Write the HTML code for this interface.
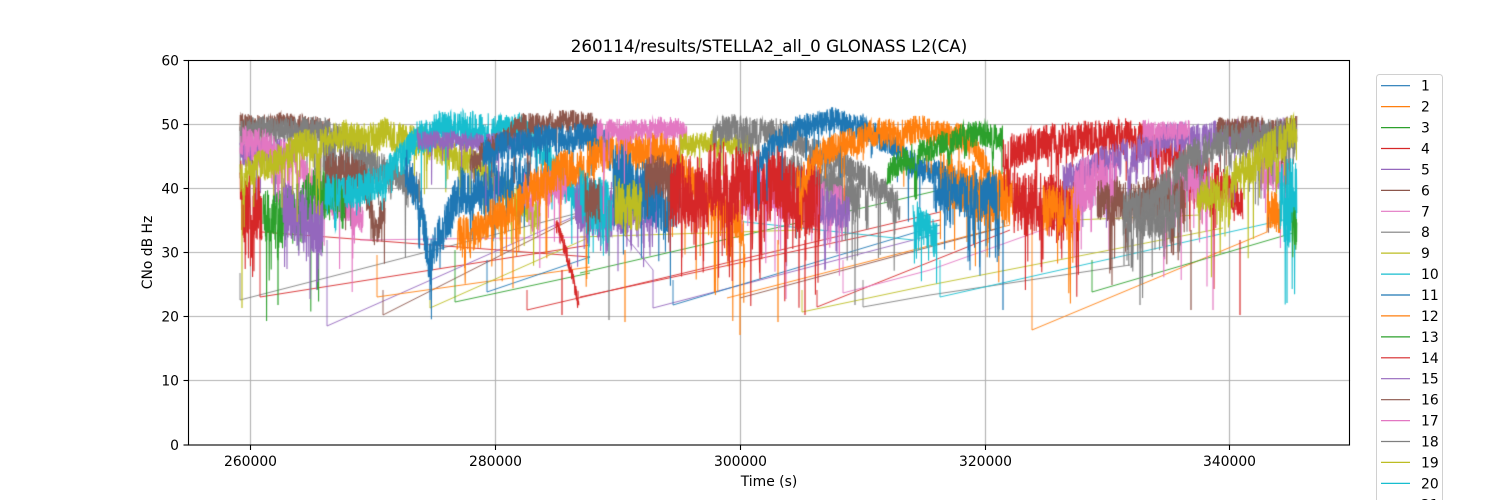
<!DOCTYPE html>
<html><head><meta charset="utf-8"><style>
html,body{margin:0;padding:0;background:#fff;}
#wrap{position:relative;width:1500px;height:500px;overflow:hidden;background:#fff;}
canvas,svg{position:absolute;left:0;top:0;}
text{font-family:"DejaVu Sans","Liberation Sans",sans-serif;fill:#000;}
</style></head><body><div id="wrap">
<canvas id="c" width="1500" height="500"></canvas>
<svg width="1500" height="500" viewBox="0 0 1500 500" xmlns="http://www.w3.org/2000/svg">
<rect x="188.5" y="60.5" width="1161" height="384.5" fill="none" stroke="#000" stroke-width="1.1"/>
<g stroke="#000" stroke-width="1.1">
<line x1="183.5" y1="60.5" x2="188.5" y2="60.5"/><line x1="183.5" y1="124.5" x2="188.5" y2="124.5"/>
<line x1="183.5" y1="188.5" x2="188.5" y2="188.5"/><line x1="183.5" y1="252.5" x2="188.5" y2="252.5"/>
<line x1="183.5" y1="316.5" x2="188.5" y2="316.5"/><line x1="183.5" y1="380.5" x2="188.5" y2="380.5"/>
<line x1="183.5" y1="445" x2="188.5" y2="445"/>
<line x1="250.5" y1="445" x2="250.5" y2="450"/><line x1="495.5" y1="445" x2="495.5" y2="450"/>
<line x1="740.5" y1="445" x2="740.5" y2="450"/><line x1="985.5" y1="445" x2="985.5" y2="450"/>
<line x1="1229.5" y1="445" x2="1229.5" y2="450"/>
</g>
<g font-size="13.9" text-anchor="end">
<text x="179" y="65.5">60</text><text x="179" y="129.5">50</text><text x="179" y="193.5">40</text>
<text x="179" y="257.5">30</text><text x="179" y="321.5">20</text><text x="179" y="385.5">10</text>
<text x="179" y="450">0</text>
</g>
<g font-size="13.9" text-anchor="middle">
<text x="250.5" y="466">260000</text><text x="495.5" y="466">280000</text><text x="740.5" y="466">300000</text>
<text x="985.5" y="466">320000</text><text x="1229.5" y="466">340000</text>
<text x="769" y="486">Time (s)</text>
<text x="0" y="0" transform="translate(152,252.5) rotate(-90)">CNo dB Hz</text>
</g>
<text x="769" y="52" font-size="16.7" text-anchor="middle">260114/results/STELLA2_all_0 GLONASS L2(CA)</text>
<rect x="1376.5" y="74.5" width="66" height="460" rx="3" fill="#fff" fill-opacity="0.8" stroke="#d0d0d0" stroke-width="1"/>
<g stroke-width="1.2">
<line x1="1381" x2="1410" y1="85.7" y2="85.7" stroke="#1f77b4"/>
<line x1="1381" x2="1410" y1="106.6" y2="106.6" stroke="#ff7f0e"/>
<line x1="1381" x2="1410" y1="127.6" y2="127.6" stroke="#2ca02c"/>
<line x1="1381" x2="1410" y1="148.5" y2="148.5" stroke="#d62728"/>
<line x1="1381" x2="1410" y1="169.4" y2="169.4" stroke="#9467bd"/>
<line x1="1381" x2="1410" y1="190.4" y2="190.4" stroke="#8c564b"/>
<line x1="1381" x2="1410" y1="211.3" y2="211.3" stroke="#e377c2"/>
<line x1="1381" x2="1410" y1="232.2" y2="232.2" stroke="#7f7f7f"/>
<line x1="1381" x2="1410" y1="253.1" y2="253.1" stroke="#bcbd22"/>
<line x1="1381" x2="1410" y1="274.1" y2="274.1" stroke="#17becf"/>
<line x1="1381" x2="1410" y1="295.0" y2="295.0" stroke="#1f77b4"/>
<line x1="1381" x2="1410" y1="315.9" y2="315.9" stroke="#ff7f0e"/>
<line x1="1381" x2="1410" y1="336.9" y2="336.9" stroke="#2ca02c"/>
<line x1="1381" x2="1410" y1="357.8" y2="357.8" stroke="#d62728"/>
<line x1="1381" x2="1410" y1="378.7" y2="378.7" stroke="#9467bd"/>
<line x1="1381" x2="1410" y1="399.7" y2="399.7" stroke="#8c564b"/>
<line x1="1381" x2="1410" y1="420.6" y2="420.6" stroke="#e377c2"/>
<line x1="1381" x2="1410" y1="441.5" y2="441.5" stroke="#7f7f7f"/>
<line x1="1381" x2="1410" y1="462.4" y2="462.4" stroke="#bcbd22"/>
<line x1="1381" x2="1410" y1="483.4" y2="483.4" stroke="#17becf"/>
<line x1="1381" x2="1410" y1="504.3" y2="504.3" stroke="#1f77b4"/>
</g>
<g font-size="13.9">
<text x="1421" y="90.7">1</text><text x="1421" y="111.6">2</text><text x="1421" y="132.6">3</text>
<text x="1421" y="153.5">4</text><text x="1421" y="174.4">5</text><text x="1421" y="195.4">6</text>
<text x="1421" y="216.3">7</text><text x="1421" y="237.2">8</text><text x="1421" y="258.1">9</text>
<text x="1421" y="279.1">10</text><text x="1421" y="300.0">11</text><text x="1421" y="320.9">12</text>
<text x="1421" y="341.9">13</text><text x="1421" y="362.8">14</text><text x="1421" y="383.7">15</text>
<text x="1421" y="404.7">16</text><text x="1421" y="425.6">17</text><text x="1421" y="446.5">18</text>
<text x="1421" y="467.4">19</text><text x="1421" y="488.4">20</text><text x="1421" y="509.3">21</text>
</g>
</svg>
</div>
<script>
(function(){
var cv=document.getElementById('c');var ctx=cv.getContext('2d');
var C={B:'#1f77b4',O:'#ff7f0e',G:'#2ca02c',R:'#d62728',P:'#9467bd',Br:'#8c564b',Pk:'#e377c2',Gy:'#7f7f7f',Ol:'#bcbd22',Cy:'#17becf'};
var seed=987654321;
function rnd(){seed^=seed<<13;seed^=seed>>>17;seed^=seed<<5;return ((seed>>>0)%1000003)/1000003;}
ctx.strokeStyle='#b0b0b0';ctx.lineWidth=1.1;
[250.5,495.5,740.5,985.5,1229.5].forEach(function(x){ctx.beginPath();ctx.moveTo(x,60);ctx.lineTo(x,445);ctx.stroke();});
[124.5,188.5,252.5,316.5,380.5].forEach(function(y){ctx.beginPath();ctx.moveTo(188,y);ctx.lineTo(1350,y);ctx.stroke();});
ctx.save();ctx.beginPath();ctx.rect(189,61,1160,383);ctx.clip();
function interp(p,x){for(var i=0;i<p.length-1;i++){if(x<=p[i+1][0]){var t=(x-p[i][0])/((p[i+1][0]-p[i][0])||1);return p[i][1]+t*(p[i+1][1]-p[i][1]);}}return p[p.length-1][1];}
function line(col,pts){ctx.strokeStyle=col;ctx.lineWidth=0.9;ctx.beginPath();ctx.moveTo(pts[0][0],pts[0][1]);for(var i=1;i<pts.length;i++)ctx.lineTo(pts[i][0],pts[i][1]);ctx.stroke();}
function pass(col,pts,amp,sp,dep){
 if(sp===undefined)sp=0.012; if(dep===undefined)dep=60;
 sp*=2;
 var A=amp*1.6;
 var x0=pts[0][0],x1=pts[pts.length-1][0];
 var ph=[rnd()*6.28,rnd()*6.28,rnd()*6.28],fr=[0.05+rnd()*0.1,0.15+rnd()*0.2,0.4+rnd()*0.3];
 ctx.strokeStyle=col;ctx.lineWidth=1.05;ctx.beginPath();var first=true;
 var dipN=0,dipD=0;
 for(var x=x0;x<=x1;x+=0.2){
  var b=interp(pts,x)+3;
  var w=amp*0.35*(Math.sin(x*fr[0]+ph[0])*0.5+Math.sin(x*fr[1]+ph[1])*0.3+Math.sin(x*fr[2]+ph[2])*0.2);
  var n=(rnd()*2-1)*A;
  var y=b+w+n;
  if(dipN>0){dipN--;y+=dipD*(0.4+0.6*rnd());}
  else if(rnd()<sp*0.35){dipN=3+Math.floor(rnd()*12);dipD=A*0.5+Math.pow(rnd(),1.5)*dep*0.7;}
  if(rnd()<sp) y+=A*0.6+Math.pow(rnd(),2)*dep;
  if(first){ctx.moveTo(x,y);first=false;}else ctx.lineTo(x,y);
 }
 ctx.stroke();
}
function vs(col,x,y1,y2){ctx.strokeStyle=col;ctx.lineWidth=1.2;ctx.beginPath();ctx.moveTo(x,y1);ctx.lineTo(x,y2);ctx.stroke();}
line(C.Gy,[[240,273],[240,300],[590,210]]);
line(C.R,[[262,232],[590,257]]);
line(C.R,[[260,230],[260,297],[590,245]]);
line(C.Pk,[[360,240],[590,237]]);
line(C.P,[[327,240],[327,326],[600,205]]);
line(C.Br,[[383,290],[383,315],[590,210]]);
line(C.O,[[377,255],[377,297],[590,267]]);
line(C.Ol,[[430,300],[430,308],[590,237]]);
line(C.G,[[455,250],[455,302],[590,273]]);
line(C.B,[[487,260],[487,292],[590,257]]);
line(C.R,[[527,290],[527,310],[600,293]]);
line(C.R,[[580,297],[940,220]]);
line(C.R,[[600,293],[940,212]]);
line(C.P,[[653,270],[653,308],[940,233]]);
line(C.B,[[673,280],[673,305],[940,225]]);
line(C.Ol,[[802,290],[802,312],[930,285],[1223,228]]);
line(C.Gy,[[863,280],[863,307],[930,295],[1130,265]]);
line(C.R,[[817,290],[817,307],[1010,230]]);
line(C.Pk,[[843,260],[843,293],[930,270],[1070,220]]);
line(C.O,[[727,298],[1010,225]]);
line(C.G,[[580,273],[940,190]]);
line(C.Ol,[[580,237],[800,230]]);
line(C.Cy,[[727,220],[913,240]]);
line(C.Br,[[740,298],[1000,228]]);
line(C.O,[[1032,190],[1032,330],[1267,232]]);
line(C.Cy,[[940,260],[940,297],[1283,220]]);
line(C.G,[[1092,260],[1092,292],[1293,233]]);
line(C.Ol,[[1073,220],[1200,215]]);
line(C.P,[[600,205],[653,270]]);
pass(C.Br,[[240,121],[280,120],[330,123]],6);
pass(C.Gy,[[240,128],[290,126],[330,128],[350,140],[375,155]],8);
pass(C.P,[[240,150],[270,148],[297,150]],8);
pass(C.Pk,[[240,140],[270,145],[297,155],[310,180],[330,195],[350,205],[363,215]],11,0.02);
pass(C.R,[[240,195],[262,200]],22,0.03,80);
pass(C.G,[[263,210],[283,215],[300,205],[325,190],[345,185]],18,0.02,80);
pass(C.P,[[283,205],[300,210],[323,230]],18,0.02);
pass(C.Ol,[[240,175],[270,160],[297,145],[340,135],[380,133],[417,135],[440,148],[470,155],[500,185],[525,205],[540,210]],10,0.015);
pass(C.Gy,[[323,155],[350,160],[377,165],[400,175],[420,185]],10);
pass(C.Br,[[325,165],[365,175],[375,230],[385,210]],12,0.02);
pass(C.Cy,[[325,190],[350,190],[377,180],[395,160],[417,138],[440,127],[480,125],[520,128],[545,150],[560,175],[580,195],[600,190],[613,195]],11,0.015);
pass(C.B,[[405,165],[420,200],[430,260],[440,230],[460,190],[497,185],[530,170]],14,0.02,70);
pass(C.P,[[417,138],[460,138],[500,140],[530,138]],6);
pass(C.Br,[[470,160],[500,140],[520,121],[560,119],[597,121]],7);
pass(C.B,[[483,150],[520,140],[560,135],[590,135],[613,140]],9);
pass(C.Pk,[[523,190],[545,180],[567,185]],12,0.02);
pass(C.O,[[457,230],[480,225],[507,205],[530,185],[560,170],[590,155],[620,147],[650,147],[673,150],[690,175],[710,200],[730,215],[745,225]],12,0.02,90);
pass(C.R,[[556,222],[562,235],[568,255],[574,280],[579,300]],5,0.01,20);
pass(C.P,[[575,200],[600,205],[630,200],[657,205]],18,0.02);
pass(C.Cy,[[580,195],[612,205]],18,0.02);
pass(C.B,[[613,170],[640,190],[680,195]],20,0.02,60);
pass(C.Ol,[[615,200],[642,205]],16,0.02);
pass(C.Br,[[585,190],[600,200]],15);
pass(C.Br,[[645,175],[680,180]],14,0.02);
pass(C.Pk,[[597,127],[640,126],[687,127]],7);
pass(C.Ol,[[680,142],[720,138],[753,142]],7);
pass(C.Gy,[[713,128],[750,127],[780,130],[810,145],[840,160],[870,175],[890,195],[900,205]],9,0.02,70);
pass(C.Gy,[[780,175],[830,180],[860,195]],14,0.02,70);
pass(C.Pk,[[740,190],[770,185],[793,195]],15,0.02);
pass(C.Pk,[[810,200],[845,200]],14,0.02);
pass(C.P,[[820,205],[850,210]],12,0.02);
pass(C.R,[[670,195],[700,185],[740,180],[780,185],[820,200]],24,0.025,80);
pass(C.B,[[757,160],[780,137],[800,123],[827,118],[850,121],[870,128],[900,150],[920,165],[940,170],[970,185],[1000,190]],8,0.012);
pass(C.O,[[797,175],[820,152],[850,138],[880,130],[910,128],[940,130],[960,134],[975,145],[990,170],[1010,190],[1023,200]],9,0.015);
pass(C.G,[[887,170],[910,155],[940,140],[970,132],[1003,134]],8,0.01);
pass(C.Cy,[[913,215],[925,225],[937,235]],12,0.02);
pass(C.O,[[940,180],[980,190],[1010,195]],18,0.02,70);
pass(C.B,[[935,185],[970,190],[1000,195]],14,0.02,80);
pass(C.R,[[1003,152],[1040,142],[1080,134],[1120,134],[1150,139],[1180,150],[1200,165],[1225,185],[1243,205]],11,0.02,80);
pass(C.R,[[1013,200],[1045,205],[1080,205]],20,0.02,70);
pass(C.O,[[1043,205],[1080,210]],15,0.02);
pass(C.P,[[1063,175],[1100,160],[1140,145],[1170,136],[1210,132],[1260,131],[1297,132]],9,0.015);
pass(C.Pk,[[1073,190],[1100,180],[1117,175]],18,0.02,70);
pass(C.Pk,[[1143,128],[1190,127]],6);
pass(C.Pk,[[1163,190],[1190,180],[1210,190]],14,0.02,70);
pass(C.Pk,[[1260,170],[1290,175]],10,0.02);
pass(C.Br,[[1097,200],[1147,195],[1185,190]],14,0.02,70);
pass(C.Gy,[[1123,210],[1160,215],[1180,205]],14,0.02,70);
pass(C.Br,[[1217,123],[1297,124]],6);
pass(C.Gy,[[1123,205],[1150,200],[1177,165],[1200,145],[1240,135],[1297,129]],10,0.02,70);
pass(C.Ol,[[1197,200],[1220,190],[1250,160],[1275,140],[1297,129]],12,0.02,70);
pass(C.O,[[1267,210],[1280,210]],14);
pass(C.Cy,[[1280,200],[1297,195]],28,0.02);
pass(C.G,[[1292,225],[1297,225]],15);
vs(C.O,740,200,335);vs(C.B,430,250,300);vs(C.Gy,609,200,320);vs(C.R,805,240,315);
vs(C.B,1003,220,310);vs(C.R,1240,240,315);vs(C.Pk,1213,230,310);vs(C.Cy,1287,230,303);
vs(C.Ol,242,200,308);vs(C.G,278,240,305);vs(C.O,778,240,322);vs(C.O,625,250,322);
vs(C.Gy,1140,230,305);vs(C.Br,1191,230,310);vs(C.Gy,855,220,305);vs(C.R,562,270,315);
ctx.restore();
})();
</script>
</body></html>
